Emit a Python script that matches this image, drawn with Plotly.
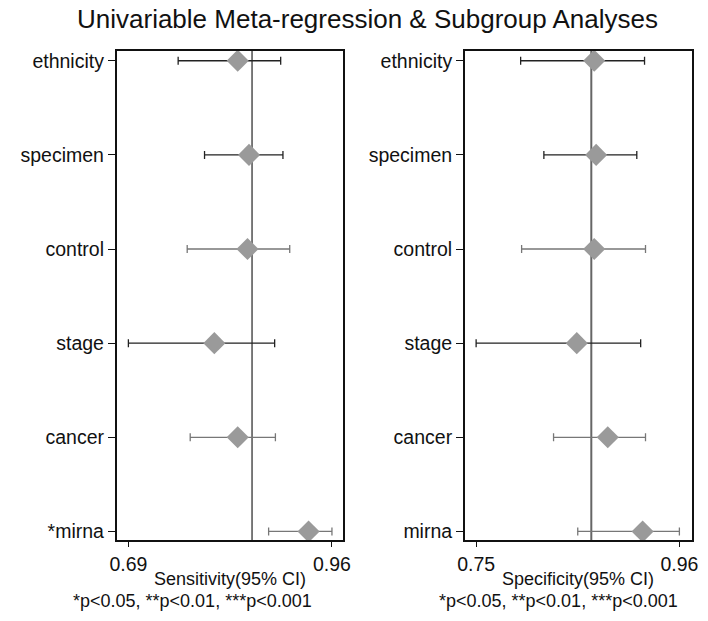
import plotly.graph_objects as go

# Covariates (top to bottom)
covariates = ["ethnicity", "specimen", "control", "stage", "cancer", "mirna"]
sens_labels = ["ethnicity", "specimen", "control", "stage", "cancer", "*mirna"]
spec_labels = ["ethnicity", "specimen", "control", "stage", "cancer", "mirna"]

# Sensitivity estimates with 95% CI
sens_est = [0.835, 0.850, 0.848, 0.804, 0.835, 0.929]
sens_lo = [0.756, 0.791, 0.768, 0.690, 0.772, 0.876]
sens_hi = [0.892, 0.895, 0.904, 0.884, 0.885, 0.960]
sens_pooled = 0.854

# Specificity estimates with 95% CI
spec_est = [0.872, 0.874, 0.872, 0.854, 0.886, 0.922]
spec_lo = [0.796, 0.820, 0.797, 0.750, 0.830, 0.855]
spec_hi = [0.924, 0.916, 0.925, 0.920, 0.925, 0.960]
spec_pooled = 0.869

# CI line shade for each row
ci_dark = [True, True, False, True, False, False]

FONT = "Liberation Sans, Arial, sans-serif"
DIAMOND = "#9a9a9a"

fig = go.Figure()


def add_panel(est, lo, hi, xa, ya):
    for i in range(len(covariates)):
        col = "#222222" if ci_dark[i] else "#777777"
        fig.add_trace(go.Scatter(
            x=[est[i]], y=[i], mode="markers",
            marker=dict(size=1, color="rgba(0,0,0,0)"),
            error_x=dict(type="data", symmetric=False,
                         array=[hi[i] - est[i]], arrayminus=[est[i] - lo[i]],
                         color=col, thickness=1.3, width=4),
            xaxis=xa, yaxis=ya, showlegend=False, hoverinfo="skip"))
    fig.add_trace(go.Scatter(
        x=est, y=list(range(len(covariates))), mode="markers",
        marker=dict(symbol="diamond", size=17, color=DIAMOND,
                    line=dict(width=0)),
        xaxis=xa, yaxis=ya, showlegend=False))


add_panel(sens_est, sens_lo, sens_hi, "x", "y")
add_panel(spec_est, spec_lo, spec_hi, "x2", "y2")

# Pooled reference lines
fig.add_shape(type="line", xref="x", yref="y domain", x0=sens_pooled, x1=sens_pooled,
              y0=0, y1=1, line=dict(color="#333333", width=1.3), layer="below")
fig.add_shape(type="line", xref="x2", yref="y2 domain", x0=spec_pooled, x1=spec_pooled,
              y0=0, y1=1, line=dict(color="#666666", width=2), layer="below")

W, H = 708, 621
ydom = [1 - 542 / H, 1 - 50 / H]

axis_common = dict(showline=True, linecolor="#111111", linewidth=1.5, mirror=True,
                   showgrid=False, zeroline=False, ticks="outside", tickcolor="#111111",
                   tickfont=dict(family=FONT, size=19.5, color="#111111"))

fig.update_layout(
    width=W, height=H,
    margin=dict(l=0, r=0, t=0, b=0),
    paper_bgcolor="white", plot_bgcolor="white",
    xaxis=dict(domain=[112 / W, 343 / W], range=[0.6744, 0.9743],
               tickvals=[0.69, 0.96], ticktext=["0.69", "0.96"], ticklen=5, **axis_common),
    yaxis=dict(domain=ydom, range=[5.095, -0.106], tickvals=list(range(6)),
               ticktext=sens_labels, ticklen=7, **axis_common),
    xaxis2=dict(domain=[467.7 / W, 699.7 / W], range=[0.7383, 0.9729], anchor="y2",
                tickvals=[0.75, 0.96], ticktext=["0.75", "0.96"], ticklen=5, **axis_common),
    yaxis2=dict(domain=ydom, range=[5.095, -0.106], anchor="x2", tickvals=list(range(6)),
                ticktext=spec_labels, ticklen=7, **axis_common),
)

annotations = [
    dict(text="Univariable Meta-regression & Subgroup Analyses", x=368 / W, y=1 - 2 / H,
         yanchor="top", font=dict(size=26, color="#111111")),
    dict(text="Sensitivity(95% CI)", x=228 / W, y=1 - 592 / H, yanchor="bottom",
         font=dict(size=18, color="#111111")),
    dict(text="*p<0.05, **p<0.01, ***p<0.001", x=190 / W, y=1 - 592 / H, yanchor="top",
         font=dict(size=18, color="#111111")),
    dict(text="Specificity(95% CI)", x=583 / W, y=1 - 592 / H, yanchor="bottom",
         font=dict(size=18, color="#111111")),
    dict(text="*p<0.05, **p<0.01, ***p<0.001", x=563 / W, y=1 - 592 / H, yanchor="top",
         font=dict(size=18, color="#111111")),
]
for a in annotations:
    a["font"]["family"] = FONT
    fig.add_annotation(xref="paper", yref="paper", showarrow=False,
                       xanchor="center", borderpad=0, **a)

fig.write_html("out.html")
